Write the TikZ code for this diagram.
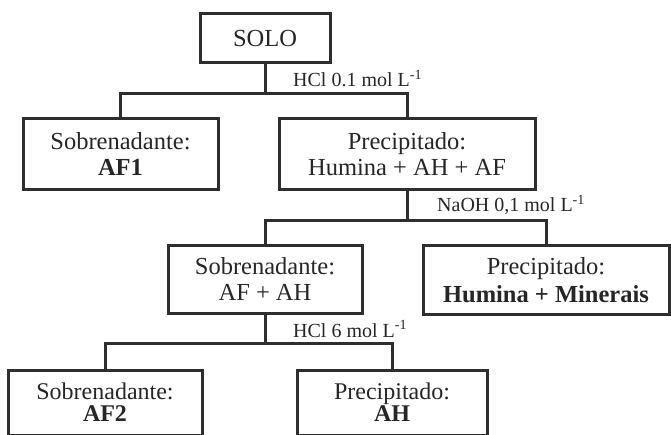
\documentclass[tikz,border=0pt]{standalone}
\usepackage{fontspec}
\setmainfont{Liberation Serif}
\begin{document}
\begin{tikzpicture}[x=1pt,y=-1pt,
  box/.style={draw=black!82, line width=3pt, align=center, inner sep=0pt,
    text=black!85, font=\fontsize{24.5}{26}\selectfont},
  tight/.style={font=\fontsize{24}{22}\selectfont},
  wire/.style={draw=black!82, line width=3pt},
  reagent/.style={anchor=base west, inner sep=0pt, text=black!85,
    font=\fontsize{20}{22}\selectfont}]
\useasboundingbox (0,0) rectangle (671,435);
\clip (0,0) rectangle (671,435);
\fill[white] (0,0) rectangle (671,435);

\node[box, minimum width=130, minimum height=49] (solo) at (265,38.5) {SOLO};
\node[box, minimum width=195, minimum height=71] (sob1) at (120.5,154.5) {Sobrenadante:\\\textbf{AF1}};
\node[box, minimum width=256, minimum height=71] (prec1) at (407,154.5) {Precipitado:\\Humina + AH + AF};
\node[box, minimum width=194, minimum height=67] (sob2) at (265,279.5) {Sobrenadante:\\AF + AH};
\node[box, minimum width=246, minimum height=68, font=\fontsize{24.5}{28}\selectfont] (prec2) at (546,280) {Precipitado:\\\textbf{Humina + Minerais}};
\node[box, tight, minimum width=194, minimum height=65] (sob3) at (105,402.5) {Sobrenadante:\\\textbf{AF2}};
\node[box, tight, minimum width=190, minimum height=65] (prec3) at (392,402.5) {Precipitado:\\\textbf{AH}};

\coordinate (j1) at (265,94);
\coordinate (j2) at (407,221);
\coordinate (j3) at (265,343);

\draw[wire] (solo.south) -- (j1);
\draw[wire] (sob1.north) |- (j1) -| (prec1.north);
\draw[wire] (prec1.south) -- (j2);
\draw[wire] (sob2.north) |- (j2) -| (prec2.north);
\draw[wire] (sob2.south) -- (j3);
\draw[wire] (sob3.north) |- (j3) -| (prec3.north);

\node[reagent] (r1) at (293,87) {HCl 0.1 mol L\textsuperscript{-1}};
\node[reagent] (r2) at (437,212) {NaOH 0,1 mol L\textsuperscript{-1}};
\node[reagent] (r3) at (293,337) {HCl 6 mol L\textsuperscript{-1}};
\end{tikzpicture}
\end{document}
